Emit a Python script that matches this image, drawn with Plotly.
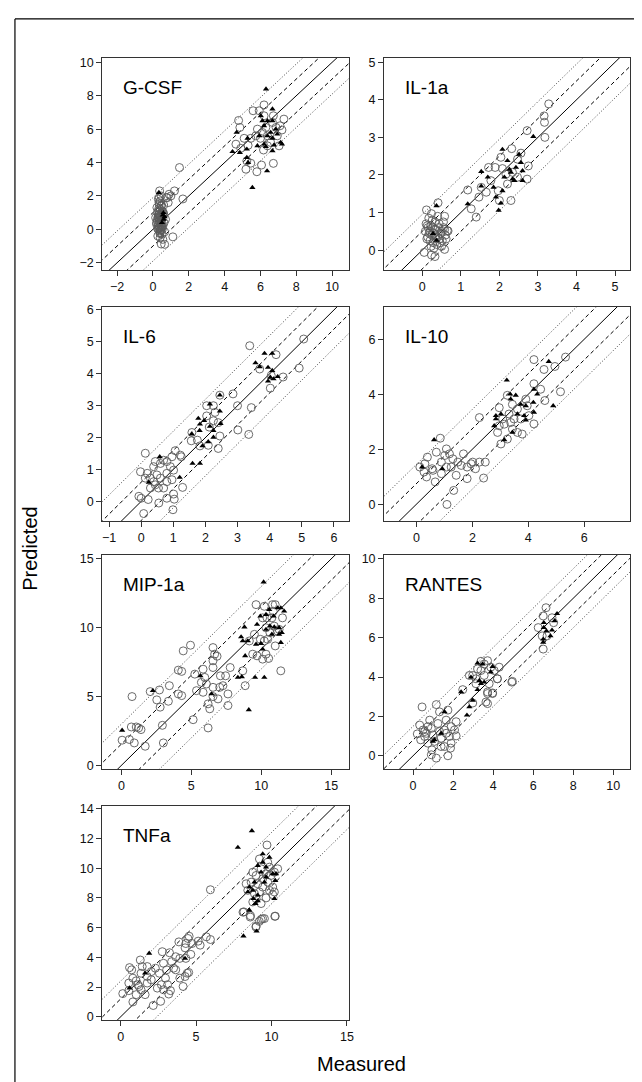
import plotly.graph_objects as go

W, H = 642, 1082

# ---------------- data ----------------
PANELS = ["G-CSF", "IL-1a", "IL-6", "IL-10", "MIP-1a", "RANTES", "TNFa"]

GCSF_CX = [4.78, 4.85, 5.59, 6.2, 5.93, 6.72, 7.31, 7.09, 4.63, 5.09, 5.31, 5.24, 5.19, 5.46, 5.8, 6.06, 6.72, 5.83, 6.11, 6.39,
           6.57, 6.17, 6.39, 6.94, 6.67, 5.74, 5.46, 6.0, 6.3, 6.87, 7.04, 4.9, 6.2, 7.2,
           0.3, 0.35, 0.4, 0.25, 0.45, 0.5, 0.2, 0.55, 0.3, 0.4, 0.35, 0.28, 0.42, 0.48, 0.33, 0.38, 0.22, 0.52, 0.6, 0.36,
           0.44, 0.3, 0.26, 0.5, 0.4, 0.34, 0.46, 0.58, 0.24, 0.32, 0.38, 0.42, 0.29, 0.54, 0.62, 0.35, 0.45, 0.4, 0.3, 0.5,
           0.27, 0.37, 0.47, 0.33, 0.43, 0.2, 0.55, 0.65, 0.36, 0.41, 0.31, 0.48, 0.39, 0.7, 0.15, 0.8, 0.9, 0.44, 0.52, 0.34,
           1.48, 1.67, 1.2, 1.0, 1.11, 0.46, 0.65, 0.37, 0.85, 0.75, 0.6]
GCSF_CY = [6.52, 6.1, 7.1, 7.45, 7.1, 6.8, 6.6, 6.2, 5.1, 5.45, 5.03, 4.1, 3.6, 3.96, 3.45, 3.85, 3.95, 6.0, 5.8, 5.6,
           5.2, 4.75, 5.0, 5.6, 6.4, 5.6, 5.45, 5.45, 6.1, 6.1, 5.0, 4.85, 6.8, 5.95,
           1.8, 1.5, 1.2, 1.0, 0.8, 0.6, 0.4, 0.2, 0.0, -0.2, 0.9, 0.7, 0.5, 0.3, 0.1, -0.1, 1.3, 1.1, 0.9, 0.65,
           0.45, 0.25, 0.05, -0.3, -0.5, 1.6, 1.4, 1.0, 0.55, 0.35, 0.15, -0.05, 0.75, 0.95, 0.4, 1.9, 2.0, 1.7, 0.85, 0.1,
           -0.4, 0.6, 0.2, 1.25, 0.0, 0.3, -0.6, -0.15, 0.5, 0.8, 1.1, 1.45, -0.25, 0.6, 0.7, 1.9, 2.1, 0.3, 0.0, 0.9,
           3.7, 1.82, 2.3, 2.0, -0.45, -0.88, -0.9, 2.3, 1.6, 1.9, 1.45]
GCSF_TX = [6.31, 6.67, 4.67, 4.44, 4.85, 5.24, 5.24, 5.31, 5.55, 6.37, 6.02, 6.11, 6.39, 6.67, 6.85, 6.39, 6.67, 6.57,
           7.13, 6.94, 7.2, 6.2, 5.83, 5.28, 6.3, 6.76, 6.67, 5.94, 6.2, 0.33, 0.59, 0.65, 0.55, 0.6, 0.5]
GCSF_TY = [8.4, 7.2, 5.8, 4.65, 4.6, 4.8, 4.3, 4.0, 2.5, 3.5, 6.8, 6.5, 6.5, 6.5, 6.0, 5.6, 5.45, 5.8,
           5.2, 5.7, 5.1, 5.1, 5.0, 5.45, 4.95, 5.05, 4.7, 5.6, 6.2, 2.2, 1.0, 0.75, 0.85, 0.6, 0.4]

IL1A_CX = [3.28, 3.16, 3.17, 3.18, 2.72, 2.32, 2.56, 2.72, 2.75, 2.3, 2.04, 2.08, 1.89, 1.72, 1.78, 1.66, 1.53, 1.47, 1.4,
           1.27, 1.18, 2.0, 2.21, 2.34, 2.47, 2.17, 2.47, 1.97, 0.11, 0.41, 0.24, 0.58, 0.05, 0.24, 0.33, 0.58, 0.67,
           0.1, 0.15, 0.2, 0.25, 0.3, 0.35, 0.4, 0.45, 0.5, 0.55, 0.12, 0.18, 0.22, 0.28, 0.33, 0.38, 0.42, 0.48, 0.52, 0.6,
           0.08, 0.14, 0.2, 0.26, 0.32, 0.36, 0.44, 0.5, 0.58, 0.65, 0.17, 0.23, 0.3, 0.4, 0.46, 0.27, 0.35, 0.13, 0.55, 0.62]
IL1A_CY = [3.89, 3.57, 3.4, 3.0, 3.18, 2.7, 2.58, 1.89, 2.24, 1.32, 2.47, 2.17, 2.2, 2.2, 1.85, 1.54, 1.67, 1.41, 0.88,
           1.1, 1.6, 1.32, 1.76, 2.07, 1.94, 2.02, 2.42, 1.58, 1.07, 1.26, 0.97, 0.9, -0.06, -0.13, -0.17, 0.02, 0.51,
           0.7, 0.6, 0.5, 0.4, 0.45, 0.55, 0.35, 0.3, 0.5, 0.6, 0.3, 0.45, 0.65, 0.2, 0.75, 0.15, 0.6, 0.45, 0.25, 0.4,
           0.5, 0.35, 0.25, 0.8, 0.55, 0.3, 0.7, 0.1, 0.55, 0.52, 0.85, 0.1, 0.05, 0.9, 0.2, 0.6, 0.4, 0.65, 0.75, 0.3]
IL1A_TX = [2.88, 2.08, 1.53, 1.53, 1.7, 1.98, 2.04, 2.08, 1.91, 1.85, 2.13, 2.21, 2.26, 2.3, 2.34, 2.43, 2.51, 2.6, 2.6,
           2.56, 2.39, 1.18, 0.37, 0.28, 0.37]
IL1A_TY = [3.02, 2.68, 2.09, 1.7, 1.94, 1.06, 1.25, 1.58, 1.41, 1.67, 1.94, 2.38, 2.15, 2.07, 1.89, 2.2, 2.55, 2.11, 1.85,
           2.33, 1.85, 1.23, 1.18, 0.44, 0.26]

IL6_CX = [3.38, 5.06, 4.2, 3.69, 4.02, 4.42, 4.92, 4.05, 2.86, 2.45, 3.0, 3.43, 3.01, 3.35, 2.04, 2.25, 2.04, 2.25, 2.4,
          2.45, 2.4, 2.09, 1.83, 1.58, 1.56, 1.75, 2.12, 2.3, 0.13, 1.06, 1.25, 0.44, 0.6, 0.8, 0.91, 0.39, 0.19, -0.02,
          0.13, 0.29, 0.49, 0.6, 0.8, 0.96, 0.44, 0.54, 0.7, 0.29, -0.07, 0.0, 0.22, 0.55, 0.8, 1.01, 1.03, 0.99, 1.29,
          0.08, 1.22, 0.96, 0.7, 1.01, 0.8, 0.39]
IL6_CY = [4.88, 5.09, 4.6, 4.15, 3.55, 3.9, 4.18, 3.95, 3.37, 3.33, 3.0, 2.94, 2.24, 2.1, 3.0, 3.0, 2.68, 2.53, 2.47,
          2.05, 1.66, 1.76, 1.74, 2.16, 1.9, 1.92, 2.33, 2.79, 1.51, 1.59, 1.4, 1.25, 1.19, 1.25, 1.09, 1.09, 0.88, 0.93,
          0.73, 0.73, 0.83, 0.73, 0.62, 0.68, 0.52, 0.42, 0.42, 0.42, 0.16, 0.1, 0.06, -0.05, 0.1, 0.23, 0.07, -0.26, 0.44,
          -0.38, 1.45, 1.4, 1.29, 0.98, 0.88, 0.62]
IL6_TX = [3.84, 4.08, 3.56, 3.69, 3.95, 4.08, 4.02, 3.95, 4.12, 4.25, 2.45, 2.14, 1.78, 1.83, 1.96, 1.58, 1.82, 2.14,
          2.25, 2.47, 2.45, 2.25, 2.09, 1.91, 1.6, 1.83, 1.2, 0.58, 0.24]
IL6_TY = [4.64, 4.64, 4.34, 4.22, 4.2, 4.1, 3.89, 3.77, 3.84, 3.91, 3.33, 3.05, 2.6, 2.42, 2.53, 2.11, 2.22, 2.35,
          2.22, 2.44, 2.83, 2.01, 1.87, 1.74, 1.19, 1.19, 0.75, 1.4, 0.6]

IL10_CX = [5.33, 4.95, 4.2, 4.56, 5.15, 4.59, 4.44, 4.2, 3.91, 3.96, 4.02, 4.2, 3.78, 3.61, 3.43, 3.25, 3.02, 2.9, 2.96,
           3.25, 3.43, 3.61, 3.31, 3.08, 2.96, 2.25, 3.14, 3.37, 3.73, 3.49, 0.85, 0.12, 0.3, 0.39, 0.27, 0.36, 0.56,
           0.71, 0.89, 1.07, 1.01, 1.18, 1.3, 1.24, 1.07, 0.89, 0.67, 1.48, 1.68, 1.42, 1.6, 1.81, 1.81, 2.01, 1.95,
           2.11, 2.25, 2.46, 2.4, 1.33, 1.09, 0.59]
IL10_CY = [5.35, 5.01, 5.26, 4.9, 4.09, 3.77, 4.18, 4.38, 3.82, 3.58, 3.22, 2.92, 2.55, 2.61, 2.73, 2.37, 2.19, 2.61, 3.51,
           3.96, 3.63, 3.46, 3.28, 3.1, 2.85, 3.15, 2.91, 2.97, 3.1, 3.1, 2.4, 1.35, 1.47, 1.71, 1.17, 0.99, 1.29,
           1.89, 1.53, 2.01, 1.77, 1.83, 1.65, 1.35, 1.35, 1.11, 0.81, 1.53, 1.83, 1.05, 1.41, 1.35, 0.93, 1.53, 1.47,
           1.29, 1.53, 1.53, 0.95, 0.5, -0.01, 1.23]
IL10_TX = [3.23, 4.73, 4.89, 3.35, 3.55, 3.37, 3.73, 3.91, 3.61, 3.85, 3.91, 4.2, 4.32, 4.2, 4.18, 3.43, 3.14, 2.84,
           2.78, 2.84, 3.02, 0.63, 0.2, 0.92]
IL10_TY = [4.51, 5.19, 3.58, 4.0, 3.96, 3.82, 3.63, 3.58, 3.28, 3.22, 3.06, 3.34, 4.0, 4.18, 3.7, 2.61, 2.34, 3.1,
           2.85, 3.22, 3.28, 2.34, 1.35, 1.29]

MIP_CX = [0.76, 0.71, 1.23, 1.4, 1.06, 0.05, 0.57, 0.92, 1.7, 3.0, 2.93, 5.13, 6.2, 7.62, 2.06, 2.72, 2.53, 2.77, 3.36,
          3.43, 4.07, 4.31, 4.07, 4.31, 4.42, 4.94, 5.37, 5.25, 5.84, 5.96, 6.08, 5.84, 5.72, 6.2, 6.32, 6.55, 6.55,
          6.55, 6.55, 6.55, 6.67, 6.84, 7.08, 7.26, 7.45, 7.78, 7.62, 7.03, 6.91, 8.68, 8.85, 9.15, 9.39, 9.51, 9.63,
          9.7, 9.94, 10.1, 10.34, 10.53, 10.22, 10.81, 11.0, 10.86, 10.76, 10.41, 10.34, 10.62, 10.93, 11.17, 11.0,
          11.28, 11.52, 11.4, 10.22, 10.46, 10.1]
MIP_CY = [5.0, 2.79, 2.72, 2.6, 2.79, 1.83, 1.88, 1.63, 1.39, 1.63, 2.91, 3.32, 2.72, 4.35, 5.36, 5.48, 4.76, 4.23, 4.66,
          5.79, 6.92, 6.83, 5.19, 5.07, 8.32, 8.73, 5.43, 6.63, 6.99, 6.39, 5.91, 5.31, 6.03, 4.47, 4.11, 5.0, 5.67,
          7.11, 7.6, 8.56, 8.08, 7.93, 6.51, 5.79, 6.51, 7.11, 5.19, 5.67, 4.83, 6.87, 5.79, 9.04, 8.08, 9.52, 11.68,
          7.96, 9.16, 7.72, 8.08, 7.77, 11.56, 11.68, 11.68, 11.2, 10.72, 10.72, 10.0, 9.64, 10.12, 9.76, 8.68,
          9.88, 10.72, 6.87, 9.04, 9.16, 10.72]
MIP_TX = [10.17, 8.8, 8.56, 8.68, 9.04, 9.63, 9.98, 10.1, 8.85, 8.61, 8.33, 9.56, 10.22, 9.11, 9.7, 9.94, 10.34, 10.57,
          10.88, 11.17, 11.4, 11.64, 10.62, 10.93, 11.28, 11.47, 11.28, 10.76, 10.34, 11.4, 2.25, 5.65, 6.44, 0.05]
MIP_TY = [13.32, 10.05, 9.33, 9.04, 9.04, 8.8, 8.85, 8.44, 7.96, 6.44, 6.39, 6.39, 6.39, 4.04, 10.24, 10.84, 10.96, 11.32,
          10.84, 11.44, 11.44, 11.2, 10.12, 10.05, 9.52, 9.64, 10.0, 9.52, 9.88, 8.92, 5.43, 6.51, 5.19, 2.55]

RAN_CX = [6.64, 6.5, 6.94, 6.25, 6.45, 6.69, 6.5, 7.02, 4.96, 4.21, 3.88, 3.55, 3.39, 3.22, 2.98, 2.48, 3.72, 3.97, 3.64,
          3.72, 2.98, 3.55, 3.8, 3.14, 4.05, 4.3, 3.72, 0.45, 1.16, 1.32, 1.74, 1.65, 0.83, 0.33, 0.5, 0.66, 0.91, 1.24,
          1.57, 1.9, 2.15, 1.82, 2.07, 2.15, 1.9, 1.87, 1.74, 1.4, 0.94, 1.16, 0.91, 0.58, 0.21, 0.38, 1.07, 1.4, 0.74,
          1.57, 0.99, 1.32, 1.65, 0.74, 3.14, 3.39, 2.81, 3.72, 3.97, 4.21, 4.93, 0.58]
RAN_CY = [7.52, 7.1, 7.01, 6.51, 6.09, 6.09, 5.42, 6.76, 3.78, 3.91, 4.5, 4.66, 4.8, 4.41, 4.08, 3.36, 3.24, 3.19, 2.73,
          2.65, 2.68, 4.08, 3.66, 3.66, 4.33, 4.5, 4.83, 2.48, 2.6, 2.23, 2.32, 1.81, 1.81, 1.56, 1.31, 1.14, 1.39, 1.64,
          1.31, 1.48, 1.73, 0.98, 1.31, 1.01, 0.64, 0.39, 0.0, 0.47, 0.3, -0.12, 0.05, 0.98, 1.11, 0.81, 0.73, 0.89, 0.64,
          0.47, 1.06, 1.23, 1.14, 1.48, 3.91, 4.33, 4.08, 3.16, 3.16, 3.91, 3.74, 1.23]
RAN_TX = [7.19, 7.07, 6.94, 6.53, 6.53, 6.5, 6.5, 6.86, 6.66, 3.22, 3.47, 3.97, 3.88, 2.89, 3.31, 3.39, 3.22, 2.98, 2.81,
          2.69, 2.4, 1.57, 1.07, 0.99, 1.4, 3.55]
RAN_TY = [7.22, 6.85, 6.38, 6.76, 6.51, 5.92, 5.76, 6.09, 6.34, 4.7, 4.66, 4.53, 4.25, 3.99, 3.82, 3.66, 3.36, 2.82, 2.48,
          2.06, 3.24, 2.23, 0.81, 0.73, 1.14, 3.74]

TNF_CX = [9.7, 5.95, 10.25, 8.17, 8.61, 8.98, 9.31, 9.53, 9.64, 10.08, 10.19, 10.41, 10.19, 9.75, 9.2, 9.31, 8.98, 8.65,
          9.09, 8.43, 8.87, 9.2, 9.42, 9.75, 9.97, 9.64, 9.42, 9.86, 10.08, 9.31, 8.98, 8.76, 8.32, 9.86, 8.76,
          0.59, 0.73, 0.14, 0.54, 0.81, 1.03, 1.14, 1.3, 1.43, 1.35, 1.76, 1.76, 2.03, 2.3, 1.62, 1.22, 1.03, 1.35,
          2.76, 2.84, 3.24, 3.38, 3.05, 2.57, 2.97, 2.7, 2.43, 2.84, 3.11, 3.19, 3.3, 2.65, 2.16, 3.51, 3.65, 3.92,
          3.65, 3.92, 4.32, 4.27, 4.46, 4.54, 4.65, 4.27, 4.41, 4.51, 4.14, 5.14, 5.27, 5.68, 5.95, 3.86, 4.73, 4.32,
          8.11, 8.59, 8.97, 9.19, 9.41, 10.22, 0.54, 0.81, 1.76, 2.03]
TNF_CY = [11.56, 8.55, 6.77, 7.06, 6.8, 6.1, 6.55, 6.61, 8.0, 8.22, 8.4, 9.96, 9.73, 10.4, 10.62, 9.96, 9.51, 9.06,
          8.95, 8.51, 8.29, 8.4, 8.73, 9.06, 9.51, 9.62, 9.29, 8.51, 8.73, 7.62, 7.95, 7.73, 8.95, 10.07, 9.73,
          3.31, 3.16, 1.56, 1.76, 1.0, 2.42, 2.16, 3.82, 3.38, 2.93, 3.38, 2.71, 3.04, 3.27, 1.49, 2.04, 1.49, 1.82,
          4.38, 3.6, 4.31, 3.71, 3.16, 2.93, 2.6, 2.16, 1.93, 1.82, 2.16, 1.53, 1.76, 1.04, 0.76, 3.27, 3.16, 2.6,
          4.04, 3.93, 3.93, 4.64, 5.27, 5.42, 4.2, 2.71, 2.93, 2.98, 2.04, 5.09, 4.82, 5.38, 5.2, 5.04, 4.93, 4.93,
          7.04, 6.71, 6.04, 6.42, 6.6, 6.76, 2.27, 2.6, 2.27, 2.49]
TNF_TX = [8.7, 7.77, 9.42, 9.86, 9.42, 9.09, 9.64, 9.31, 10.08, 10.25, 9.53, 8.87, 8.54, 8.76, 8.43, 9.09, 8.8, 9.09,
          8.94, 10.19, 9.64, 10.3, 8.54, 8.14, 9.01, 1.89, 1.62, 0.59, 4.27]
TNF_TY = [12.52, 11.4, 10.96, 10.73, 10.4, 10.18, 10.07, 9.73, 9.62, 9.17, 9.06, 9.06, 8.73, 8.51, 8.4, 8.18, 7.95, 7.8,
          7.62, 7.95, 9.4, 9.62, 7.17, 5.43, 5.76, 4.27, 2.93, 1.93, 3.93]

# band half-widths (dashed, dotted) around the identity line
BANDS = {"G-CSF": (1.0, 1.9), "IL-1a": (0.5, 0.95), "IL-6": (0.6, 1.2), "IL-10": (0.75, 1.45),
         "MIP-1a": (1.55, 3.0), "RANTES": (0.8, 1.5), "TNFa": (1.2, 2.4)}

# axis ranges and ticks
XRANGES = {"G-CSF": (-2.83, 10.96), "IL-1a": (-0.99, 5.39), "IL-6": (-1.21, 6.48), "IL-10": (-1.16, 7.64),
           "MIP-1a": (-1.37, 16.3), "RANTES": (-1.45, 10.84), "TNFa": (-1.22, 15.16)}
YRANGES = {"G-CSF": (-2.44, 10.28), "IL-1a": (-0.53, 5.12), "IL-6": (-0.62, 6.1), "IL-10": (-0.62, 7.18),
           "MIP-1a": (-0.29, 15.29), "RANTES": (-0.69, 10.2), "TNFa": (-0.25, 14.18)}
XTICKS = {"G-CSF": [-2, 0, 2, 4, 6, 8, 10], "IL-1a": [0, 1, 2, 3, 4, 5], "IL-6": [-1, 0, 1, 2, 3, 4, 5, 6],
          "IL-10": [0, 2, 4, 6], "MIP-1a": [0, 5, 10, 15], "RANTES": [0, 2, 4, 6, 8, 10], "TNFa": [0, 5, 10, 15]}
YTICKS = {"G-CSF": [-2, 0, 2, 4, 6, 8, 10], "IL-1a": [0, 1, 2, 3, 4, 5], "IL-6": [0, 1, 2, 3, 4, 5, 6],
          "IL-10": [0, 2, 4, 6], "MIP-1a": [0, 5, 10, 15], "RANTES": [0, 2, 4, 6, 8, 10],
          "TNFa": [0, 2, 4, 6, 8, 10, 12, 14]}

DATA = {
    "G-CSF": (GCSF_CX, GCSF_CY, GCSF_TX, GCSF_TY),
    "IL-1a": (IL1A_CX, IL1A_CY, IL1A_TX, IL1A_TY),
    "IL-6": (IL6_CX, IL6_CY, IL6_TX, IL6_TY),
    "IL-10": (IL10_CX, IL10_CY, IL10_TX, IL10_TY),
    "MIP-1a": (MIP_CX, MIP_CY, MIP_TX, MIP_TY),
    "RANTES": (RAN_CX, RAN_CY, RAN_TX, RAN_TY),
    "TNFa": (TNF_CX, TNF_CY, TNF_TX, TNF_TY),
}

# ---------------- layout geometry (pixels) ----------------
COLS = [(95, 344), (379, 627)]
ROWS = [(46, 260), (297, 513), (547, 763), (800, 1016)]

FONT = "Liberation Sans, Arial, Helvetica, sans-serif"

fig = go.Figure()
layout = dict(width=W, height=H, margin=dict(l=0, r=0, t=0, b=0), showlegend=False,
              paper_bgcolor="white", plot_bgcolor="white",
              font=dict(family=FONT, color="black", size=12))
annotations = []

for i, name in enumerate(PANELS):
    r, c = divmod(i, 2)
    k = "" if i == 0 else str(i + 1)
    xa, ya = "x" + k, "y" + k
    (x0, x1), (y0, y1) = COLS[c], ROWS[r]
    xr, yr = XRANGES[name], YRANGES[name]
    axcommon = dict(showgrid=False, zeroline=False, showline=True, mirror=True, linecolor="#333",
                    linewidth=1, ticks="outside", ticklen=5, tickcolor="#333",
                    tickfont=dict(size=12.5, family=FONT, color="#111"))
    layout["xaxis" + k] = dict(domain=[x0 / W, x1 / W], range=list(xr), anchor=ya,
                               tickvals=XTICKS[name], **axcommon)
    layout["yaxis" + k] = dict(domain=[1 - y1 / H, 1 - y0 / H], range=list(yr), anchor=xa,
                               tickvals=YTICKS[name], **axcommon)
    # reference lines
    d1, d2 = BANDS[name]
    lx = [xr[0] - 1, xr[1] + 1]
    for off, dash, wd, col in [(-d2, "1px,2px", 1.0, "#444"), (-d1, "4px,3px", 1.0, "black"),
                               (0, "solid", 1.0, "black"),
                               (d1, "4px,3px", 1.0, "black"), (d2, "1px,2px", 1.0, "#444")]:
        fig.add_trace(go.Scatter(x=lx, y=[v + off for v in lx], mode="lines", xaxis=xa, yaxis=ya,
                                 line=dict(color=col, width=wd, dash=dash), hoverinfo="skip"))
    cx, cy, tx, ty = DATA[name]
    fig.add_trace(go.Scatter(x=cx, y=cy, mode="markers", xaxis=xa, yaxis=ya,
                             marker=dict(symbol="circle-open", size=8, color="#5a5a5a",
                                         line=dict(width=0.9, color="#5a5a5a"))))
    fig.add_trace(go.Scatter(x=tx, y=ty, mode="markers", xaxis=xa, yaxis=ya,
                             marker=dict(symbol="triangle-up", size=5.5, color="black")))
    annotations.append(dict(text=name, x=(x0 + 19) / W, y=1 - (y0 + 30) / H, xref="paper", yref="paper",
                            xanchor="left", yanchor="middle", showarrow=False,
                            font=dict(size=19, family=FONT, color="black")))

annotations.append(dict(text="Predicted", x=22 / W, y=1 - 540 / H, xref="paper", yref="paper",
                        xanchor="center", yanchor="middle",
                        textangle=-90, showarrow=False, font=dict(size=20, family=FONT)))
annotations.append(dict(text="Measured", x=356 / W, y=1 - 1060 / H, xref="paper", yref="paper",
                        xanchor="center", yanchor="middle",
                        showarrow=False, font=dict(size=20, family=FONT)))
layout["annotations"] = annotations

# open frame: top and left border lines
layout["shapes"] = [
    dict(type="line", xref="paper", yref="paper", x0=7 / W, x1=637 / W, y0=1 - 7 / H, y1=1 - 7 / H,
         line=dict(color="black", width=1.2)),
    dict(type="line", xref="paper", yref="paper", x0=7 / W, x1=7 / W, y0=1 - 7 / H, y1=0,
         line=dict(color="black", width=1.2)),
]

fig.update_layout(**layout)
fig.write_html("out.html")
